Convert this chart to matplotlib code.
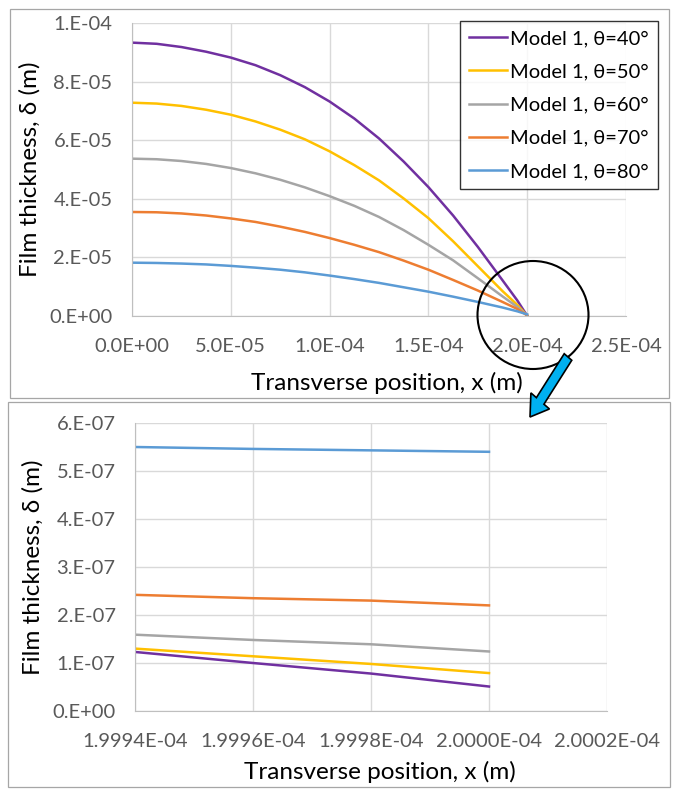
import matplotlib
matplotlib.use("Agg")
import matplotlib.pyplot as plt
from matplotlib.patches import Rectangle, Ellipse, FancyArrow
from matplotlib.ticker import FuncFormatter, MultipleLocator

plt.rcParams['font.family'] = ['Lato', 'DejaVu Sans']

# --- data ---
labels = ["Model 1, θ=40°", "Model 1, θ=50°", "Model 1, θ=60°",
          "Model 1, θ=70°", "Model 1, θ=80°"]
colors = ["#7030a0", "#ffc000", "#a5a5a5", "#ed7d31", "#5b9bd5"]

# full profile, x in m, thickness in units of 1e-5 m
x_full = [0.0, 1.25e-5, 2.5e-5, 3.75e-5, 5.0e-5, 6.25e-5, 7.5e-5, 8.75e-5, 1.0e-4,
          1.125e-4, 1.25e-4, 1.375e-4, 1.5e-4, 1.625e-4, 1.75e-4, 1.875e-4, 1.95e-4, 2.0e-4]
d40 = [9.33, 9.29, 9.18, 9.02, 8.82, 8.56, 8.22, 7.81, 7.32,
       6.74, 6.06, 5.27, 4.40, 3.43, 2.36, 1.22, 0.53, 0.0051]
d50 = [7.28, 7.25, 7.17, 7.04, 6.87, 6.64, 6.36, 6.03, 5.62,
       5.15, 4.63, 4.01, 3.34, 2.55, 1.70, 0.85, 0.38, 0.0079]
d60 = [5.37, 5.35, 5.29, 5.19, 5.05, 4.87, 4.65, 4.39, 4.09,
       3.76, 3.38, 2.93, 2.43, 1.90, 1.29, 0.67, 0.31, 0.0124]
d70 = [3.55, 3.54, 3.50, 3.43, 3.33, 3.21, 3.05, 2.87, 2.66,
       2.43, 2.18, 1.89, 1.58, 1.23, 0.87, 0.48, 0.24, 0.022]
d80 = [1.82, 1.81, 1.79, 1.76, 1.71, 1.65, 1.58, 1.49, 1.38,
       1.26, 1.13, 0.98, 0.83, 0.66, 0.48, 0.29, 0.16, 0.054]

# zoom near the edge, thickness in units of 1e-7 m
x_zoom = [1.9994e-4, 1.9996e-4, 1.9998e-4, 2.0000e-4]
z40 = [1.23, 1.00, 0.78, 0.51]
z50 = [1.30, 1.14, 0.98, 0.79]
z60 = [1.59, 1.48, 1.39, 1.24]
z70 = [2.42, 2.35, 2.30, 2.20]
z80 = [5.50, 5.46, 5.43, 5.40]

full = [d40, d50, d60, d70, d80]
zoom = [z40, z50, z60, z70, z80]

W, H = 675, 790
fig = plt.figure(figsize=(W / 100, H / 100), dpi=100)


def fx(px):
    return px / W


def fy(py):
    return 1 - py / H


# chart frames
for (x0, y0, x1, y1) in [(10, 9, 669, 398), (8, 402, 670, 787)]:
    fig.add_artist(Rectangle((fx(x0), fy(y1)), fx(x1) - fx(x0), fy(y0) - fy(y1),
                             transform=fig.transFigure, fill=False,
                             edgecolor="#a6a6a6", lw=0.9))

tick_col = "#595959"
grid_col = "#d9d9d9"


def style(ax):
    ax.grid(True, color=grid_col, lw=1.0)
    ax.set_axisbelow(True)
    for s in ax.spines.values():
        s.set_visible(False)
    ax.spines['left'].set_visible(True)
    ax.spines['bottom'].set_visible(True)
    ax.spines['left'].set_color("#bfbfbf")
    ax.spines['bottom'].set_color("#bfbfbf")
    ax.tick_params(length=0, labelsize=14.5, labelcolor=tick_col)
    ax.tick_params(axis='x', pad=16)
    ax.tick_params(axis='y', pad=14)


# --- top chart ---
ax1 = fig.add_axes([fx(132), fy(316), fx(626) - fx(132), fy(23) - fy(316)])
for y, c, lab in zip(full, colors, labels):
    ax1.plot(x_full, [v * 1e-5 for v in y], color=c, lw=1.8, label=lab)
ax1.set_xlim(0, 2.5e-4)
ax1.set_ylim(0, 1.0e-4)
ax1.xaxis.set_major_locator(MultipleLocator(5e-5))
ax1.yaxis.set_major_locator(MultipleLocator(2e-5))
ax1.xaxis.set_major_formatter(FuncFormatter(lambda v, p: f"{v:.1E}"))
ax1.yaxis.set_major_formatter(FuncFormatter(lambda v, p: f"{v:#.0E}"))
style(ax1)
ax1.set_xlabel("Transverse position, x (m)", fontsize=17.5)
ax1.set_ylabel("Film thickness, δ (m)", fontsize=17.5, labelpad=6)
ax1.xaxis.set_label_coords(0.516, -0.19)
leg = ax1.legend(loc="upper right", bbox_to_anchor=(fx(658), fy(21)),
                 bbox_transform=fig.transFigure, fontsize=14.5, frameon=True,
                 fancybox=False, borderaxespad=0, handlelength=1.9,
                 handletextpad=0.15, labelspacing=0.8, borderpad=0.45)
leg.get_frame().set_edgecolor("black")
leg.get_frame().set_linewidth(1.0)

# --- bottom chart ---
ax2 = fig.add_axes([fx(135), fy(711), fx(607) - fx(135), fy(423) - fy(711)])
for y, c in zip(zoom, colors):
    ax2.plot(x_zoom, [v * 1e-7 for v in y], color=c, lw=1.8)
ax2.set_xlim(1.9994e-4, 2.0002e-4)
ax2.set_ylim(0, 6e-7)
ax2.xaxis.set_major_locator(MultipleLocator(2e-8))
ax2.yaxis.set_major_locator(MultipleLocator(1e-7))
ax2.xaxis.set_major_formatter(FuncFormatter(lambda v, p: f"{v:.4E}"))
ax2.yaxis.set_major_formatter(FuncFormatter(lambda v, p: f"{v:#.0E}"))
style(ax2)
ax2.set_xlabel("Transverse position, x (m)", fontsize=17.5)
ax2.set_ylabel("Film thickness, δ (m)", fontsize=17.5, labelpad=6)
ax2.xaxis.set_label_coords(0.519, -0.175)

# zoom circle and arrow
fig.add_artist(Ellipse((fx(533), fy(315)), 111 / W, 108 / H,
                       transform=fig.transFigure, fill=False,
                       edgecolor="black", lw=1.5))
fig.add_artist(FancyArrow(fx(568), fy(357), fx(530) - fx(568), fy(417) - fy(357),
                          width=11 / H, head_width=27 / H, head_length=20 / H,
                          length_includes_head=True, transform=fig.transFigure,
                          facecolor="#00b0f0", edgecolor="black", lw=1.2))

fig.savefig("out.png", dpi=100)
